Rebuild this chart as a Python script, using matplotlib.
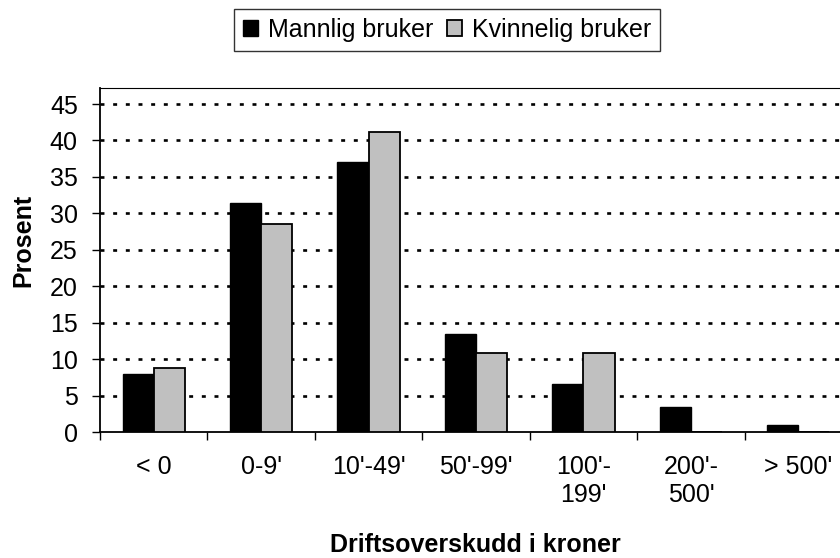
import matplotlib.pyplot as plt
import numpy as np

plt.rcParams['font.family'] = ['Liberation Sans', 'DejaVu Sans']

categories = ["< 0", "0-9'", "10'-49'", "50'-99'", "100'-\n199'", "200'-\n500'", "> 500'"]
mannlig = [8.0, 31.4, 37.0, 13.4, 6.6, 3.4, 0.9]
kvinnelig = [8.8, 28.5, 41.2, 10.8, 10.8, 0, 0]
yticks = [0, 5, 10, 15, 20, 25, 30, 35, 40, 45]

W, H = 840, 558
fig = plt.figure(figsize=(W / 100, H / 100), dpi=100)
ax = fig.add_axes([100 / W, (H - 432) / H, 752 / W, 344 / H])

x = np.arange(len(categories))
bw = 0.29
ax.bar(x - bw / 2, mannlig, bw, color='black', edgecolor='black', linewidth=1.0,
       label='Mannlig bruker', zorder=3)
ax.bar(x + bw / 2, kvinnelig, bw, color='#c0c0c0', edgecolor='black', linewidth=1.3,
       label='Kvinnelig bruker', zorder=3)

for yv in yticks[1:]:
    ax.axhline(yv, color='black', linewidth=1.9, linestyle=(0, (1.5, 3.3)), zorder=1)

ax.set_xlim(-0.5, len(categories) - 0.5)
ax.set_ylim(0, 47.2)
ax.set_yticks(yticks)
ax.set_xticks(np.arange(-0.5, len(categories), 1.0))
ax.set_xticklabels([])
ax.set_xticks(x, minor=True)
ax.set_xticklabels(categories, minor=True)
ax.tick_params(axis='x', which='major', length=6, width=1, direction='out')
ax.tick_params(axis='x', which='minor', length=0, pad=16.5, labelsize=18)
ax.tick_params(axis='y', length=6, width=1, direction='out', pad=10, labelsize=18)

for s in ['left', 'bottom']:
    ax.spines[s].set_linewidth(1.3)
ax.spines['top'].set_linewidth(0.8)
ax.spines['right'].set_visible(False)

fig.text(23.5 / W, 1 - 240 / H, 'Prosent', rotation=90, ha='center', va='center',
         fontsize=18, fontweight='bold')
fig.text(475 / W, 1 - 545 / H, 'Driftsoverskudd i kroner', ha='center', va='center',
         fontsize=18, fontweight='bold')

leg = fig.legend(loc='center', bbox_to_anchor=(447 / W, 1 - 30 / H), ncol=2,
                 frameon=True, fancybox=False, fontsize=18, handlelength=0.6,
                 handleheight=0.6, handletextpad=0.4, columnspacing=0.55,
                 borderpad=0.35, borderaxespad=0, edgecolor='black')
leg.get_frame().set_linewidth(1.0)

fig.savefig('out.png', dpi=100)
